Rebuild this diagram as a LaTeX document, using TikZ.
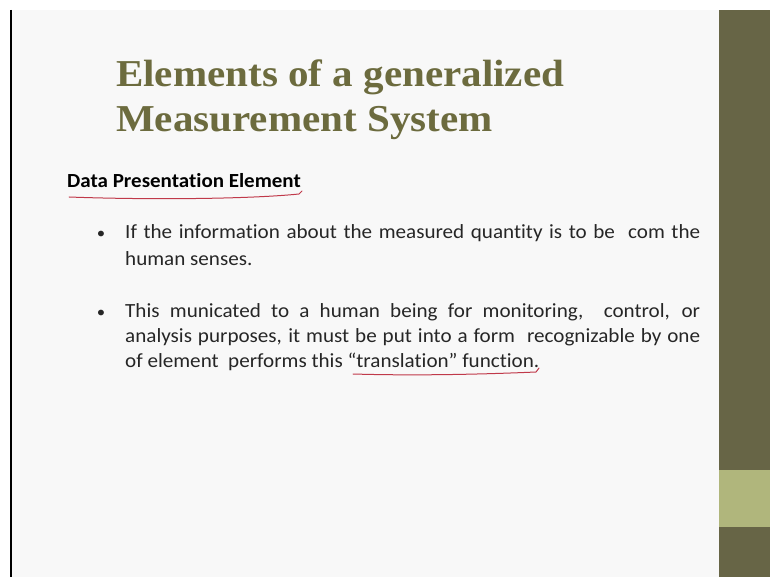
\documentclass[tikz,border=0pt]{standalone}
\usepackage{fontspec}
\setmainfont{Carlito}[Ligatures={NoCommon}, FakeStretch=1.05]
\newfontfamily\titlefont{Liberation Serif}[FakeStretch=1.08]
\definecolor{slidebg}{HTML}{F8F8F8}
\definecolor{titleol}{HTML}{6C6B3E}
\definecolor{paneldark}{HTML}{676546}
\definecolor{panellight}{HTML}{B0B67C}
\definecolor{inkred}{HTML}{C0394A}
\definecolor{bodytext}{HTML}{262626}
\tikzset{
  titletext/.style={anchor=base west, inner sep=0pt, text=titleol, font=\titlefont\bfseries\fontsize{38}{46}\selectfont},
  headtext/.style={anchor=base west, inner sep=0pt, text=black, font=\bfseries\fontsize{20}{24}\selectfont},
  bodyline/.style={anchor=base west, inner sep=0pt, text=bodytext, font=\fontsize{20.1}{24}\selectfont},
  bulletmark/.style={anchor=base, inner sep=0pt, text=bodytext, font=\fontsize{16}{24}\selectfont},
  redink/.style={draw=inkred, line width=1pt, line cap=round}
}
\begin{document}
\begin{tikzpicture}[x=1pt,y=-1pt]
\useasboundingbox (0,0) rectangle (770,577);
\fill[white] (0,0) rectangle (770,577);
\fill[slidebg] (11,10) rectangle (719,577);
\fill[paneldark] (719,10) rectangle (770,577);
\fill[panellight] (719,470) rectangle (770,527);
\draw[black, line width=1.5pt] (11,10) -- (11,577);
% title
\node[titletext] (t1) at (116,87) {Elements of a generalized};
\node[titletext] (t2) at (116,132) {Measurement System};
% heading
\node[headtext] (h) at (67,188) {Data Presentation Element};
\draw[redink] (69,197) .. controls (150,200) and (250,199) .. (299,194) -- (302,191);
% bullets
\node[bulletmark] (b1) at (101,239) {\textbullet};
\node[bodyline] (l1) at (125,239) {\makebox[575pt][s]{If the information about the measured quantity is to be\ \ com the}};
\node[bodyline] (l2) at (125,265) {human senses.};
\node[bulletmark] (b2) at (101,317) {\textbullet};
\node[bodyline] (l3) at (125,317) {\makebox[575pt][s]{This municated to a human being for monitoring,\ \ control, or}};
\node[bodyline] (l4) at (125,342) {\makebox[575pt][s]{analysis purposes, it must be put into a form\ \ recognizable by one}};
\node[bodyline] (l5) at (125,367) {of element\ \ performs this “translation” function.};
\draw[redink] (353,374) .. controls (420,376) and (490,374) .. (536,372) -- (539,368);
\end{tikzpicture}
\end{document}
